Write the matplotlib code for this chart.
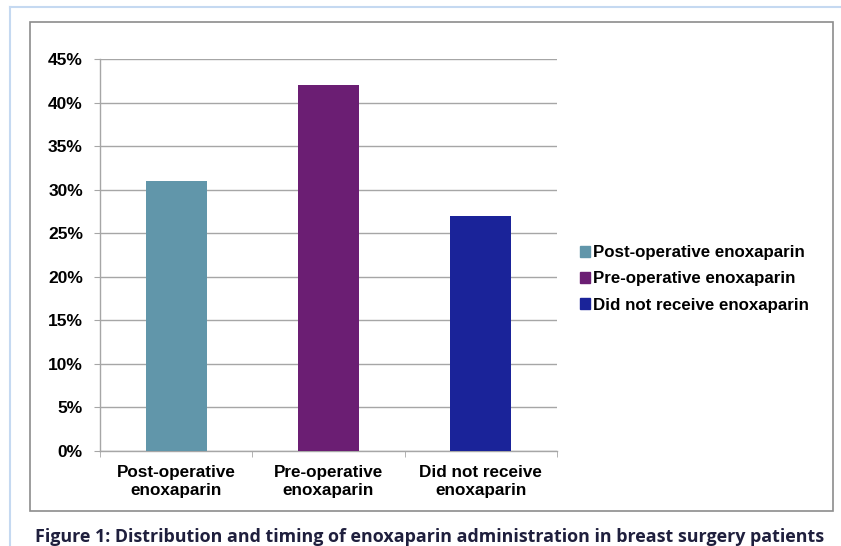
import matplotlib
matplotlib.use("Agg")
import matplotlib.pyplot as plt
from matplotlib.patches import Rectangle
from matplotlib.lines import Line2D
from matplotlib.ticker import FuncFormatter, MultipleLocator

categories = ["Post-operative\nenoxaparin", "Pre-operative\nenoxaparin", "Did not receive\nenoxaparin"]
legend_labels = ["Post-operative enoxaparin", "Pre-operative enoxaparin", "Did not receive enoxaparin"]
values = [31, 42, 27]
colors = ["#6196aa", "#6b1e73", "#1a2399"]
caption = "Figure 1: Distribution and timing of enoxaparin administration in breast surgery patients"

W, H = 841, 546
fig = plt.figure(figsize=(W / 100, H / 100), dpi=100)
fig.patch.set_facecolor("white")

# outer light blue page lines
fig.add_artist(Line2D([10 / W, 1], [1 - 7 / H, 1 - 7 / H], color="#c5d9f1", lw=1.5))
fig.add_artist(Line2D([10 / W, 10 / W], [0, 1 - 7 / H], color="#c5d9f1", lw=1.5))
# chart frame
fig.add_artist(Rectangle((30 / W, 1 - 511 / H), (833 - 30) / W, (511 - 22) / H,
                         fill=False, edgecolor="#8c8c8c", lw=1.2))

ax = fig.add_axes([100 / W, 1 - 451 / H, (557 - 100) / W, (451 - 59) / H])
x = list(range(len(categories)))
bars = ax.bar(x, values, width=0.4, color=colors, zorder=3)
ax.set_xlim(-0.5, 2.5)
ax.set_ylim(0, 45)
ax.yaxis.set_major_locator(MultipleLocator(5))
ax.yaxis.set_major_formatter(FuncFormatter(lambda v, p: f"{int(v)}%"))
ax.grid(axis="y", color="#a6a6a6", lw=1, zorder=0)
for s in ["top", "right"]:
    ax.spines[s].set_visible(False)
for s in ["left", "bottom"]:
    ax.spines[s].set_color("#a6a6a6")
    ax.spines[s].set_linewidth(1)
ax.set_xticks(x)
ax.set_xticklabels(categories, fontfamily="Liberation Sans", fontweight="bold", fontsize=12.3,
                   linespacing=1.25)
ax.tick_params(axis="x", length=0, pad=10)
ax.set_xticks([-0.5, 0.5, 1.5, 2.5], minor=True)
ax.tick_params(axis="x", which="minor", length=4.3, color="#a6a6a6")
ax.tick_params(axis="y", length=4.3, color="#a6a6a6", pad=8)
for t in ax.get_yticklabels():
    t.set_fontfamily("Liberation Sans")
    t.set_fontweight("bold")
    t.set_fontsize(12.5)

handles = [Rectangle((0, 0), 1, 1, color=c) for c in colors]
fig.legend(handles, legend_labels, loc="center left", bbox_to_anchor=(565 / W, 1 - 279 / H),
           frameon=False, prop={"family": "Liberation Sans", "weight": "bold", "size": 12.2},
           handlelength=0.55, handleheight=0.55, handletextpad=0.2, labelspacing=0.65)

fig.text(35 / W, 1 - 537 / H, caption, fontfamily="Open Sans", fontweight="bold",
         fontsize=12.9, color="#1f1f3d", va="center", ha="left")

fig.savefig("out.png", dpi=100)
